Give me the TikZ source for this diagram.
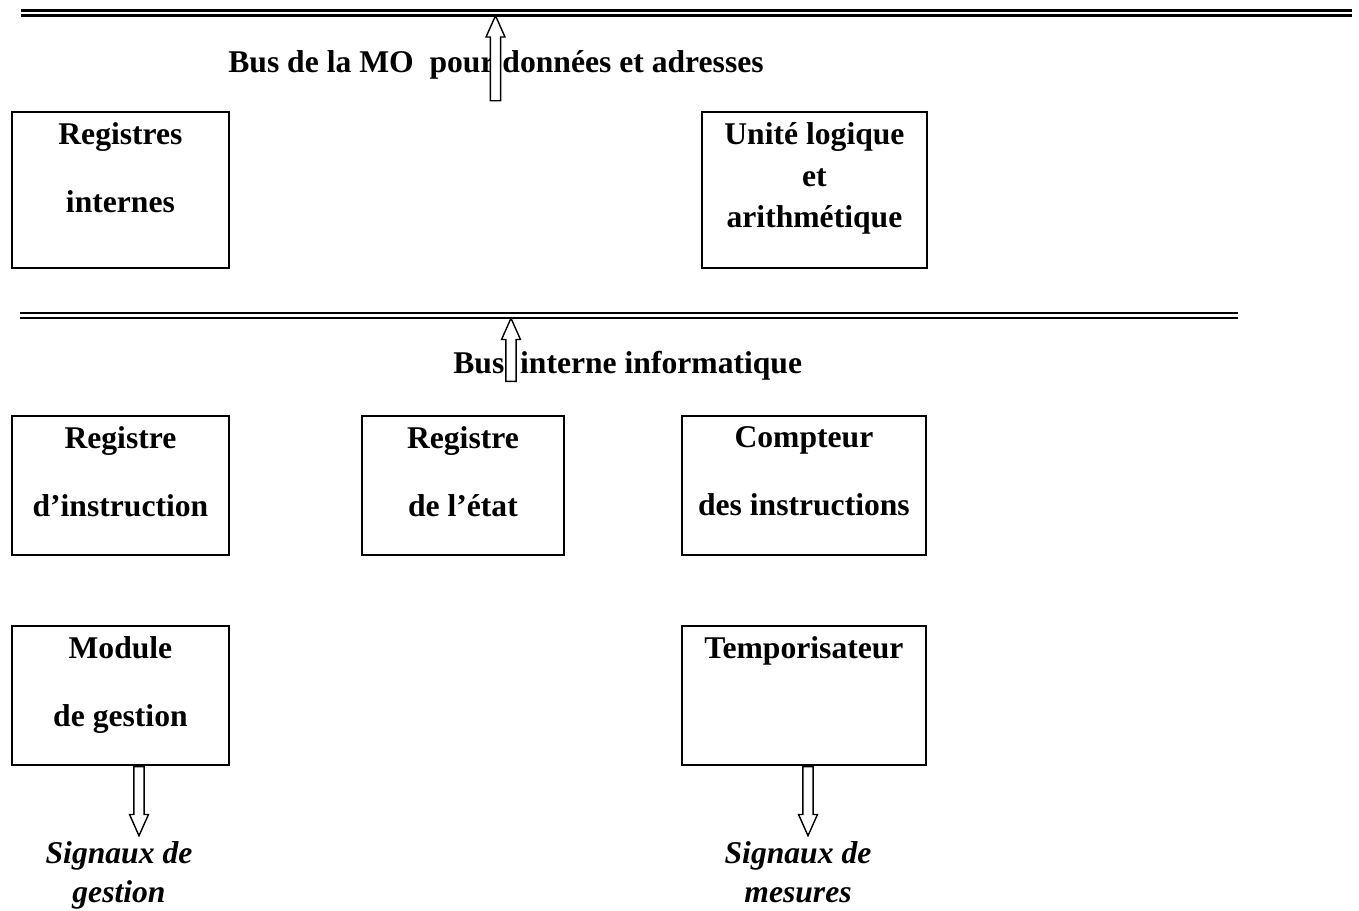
\documentclass[tikz,border=0pt]{standalone}
\usepackage{fontspec}
\setmainfont{Liberation Serif}
\usetikzlibrary{shapes.arrows, positioning}

\begin{document}
\begin{tikzpicture}[x=0.02cm, y=-0.02cm]
        % Style definitions
        \tikzstyle{unit} = [draw, line width=1.1pt, rectangle, anchor=north west, inner sep=0pt]
        \tikzstyle{lbl} = [align=center, inner sep=0pt, font=\bfseries\fontsize{18}{38.7}\selectfont]
        \tikzstyle{sig} = [align=center, inner sep=0pt, font=\bfseries\itshape\fontsize{18}{22.5}\selectfont]
        \tikzstyle{bus} = [double, double distance=1.2pt, line width=1.5pt]
        \tikzstyle{busarrow} = [single arrow, draw, fill=white, line width=0.8pt, inner sep=2.5pt, single arrow head extend=2.5pt, single arrow tip angle=48]

        \useasboundingbox (0,0) rectangle (1359,910);

        % Buses
        \coordinate (mo west) at (21,13);
        \coordinate (mo east) at (1352,13);
        \coordinate (int west) at (20,315.5);
        \coordinate (int east) at (1238,315.5);
        \draw [bus] (mo west) -- (mo east);
        \draw [bus] (int west) -- (int east);

        % Units
        \node [unit, minimum width=4.34cm, minimum height=3.12cm] (regint) at (11,111) {};
        \node [unit, minimum width=4.5cm, minimum height=3.12cm] (ual) at (701,111) {};
        \node [unit, minimum width=4.34cm, minimum height=2.78cm] (reginst) at (11,415) {};
        \node [unit, minimum width=4.04cm, minimum height=2.78cm] (regetat) at (361,415) {};
        \node [unit, minimum width=4.88cm, minimum height=2.78cm] (compteur) at (681,415) {};
        \node [unit, minimum width=4.34cm, minimum height=2.78cm] (module) at (11,625) {};
        \node [unit, minimum width=4.88cm, minimum height=2.78cm] (tempo) at (681,625) {};

        % Labels
        \node [lbl, below=6.5pt of regint.north] (regint text) {Registres\\internes};
        \node [lbl, below=6.5pt of ual.north, font=\bfseries\fontsize{18}{23.5}\selectfont] (ual text) {Unité logique\\et\\arithmétique};
        \node [lbl, below=6.5pt of reginst.north] (reginst text) {Registre\\d’instruction};
        \node [lbl, below=6.5pt of regetat.north] (regetat text) {Registre\\de l’état};
        \node [lbl, below=6.5pt of compteur.north] (compteur text) {Compteur\\des instructions};
        \node [lbl, below=6.5pt of module.north] (module text) {Module\\de gestion};
        \node [lbl, below=6.5pt of tempo.north] (tempo text) {Temporisateur};

        \node [lbl, anchor=base west] (mo text) at (228,72) {Bus de la MO~ pour données et adresses};
        \node [lbl, anchor=base west] (int text) at (453,373) {Bus\hspace{9pt}interne informatique};

        % Arrows
        \coordinate (mo tap) at (495.5,14);
        \coordinate (int tap) at (511,316.5);
        \coordinate (gest out) at (139,766);
        \coordinate (mes out) at (808,766);
        \node [busarrow, minimum height=48.4pt, shape border rotate=90, anchor=tip] (mo arrow) at (mo tap) {};
        \node [busarrow, minimum height=35.9pt, shape border rotate=90, anchor=tip] (int arrow) at (int tap) {};
        \node [busarrow, minimum height=39.3pt, shape border rotate=270, anchor=tail] (gest arrow) at (gest out) {};
        \node [busarrow, minimum height=39.3pt, shape border rotate=270, anchor=tail] (mes arrow) at (mes out) {};

        % Output signals
        \node [sig, anchor=north] (gest sig) at (119,841) {Signaux de\\gestion};
        \node [sig, anchor=north] (mes sig) at (798,841) {Signaux de\\mesures};
    \end{tikzpicture}
\end{document}
